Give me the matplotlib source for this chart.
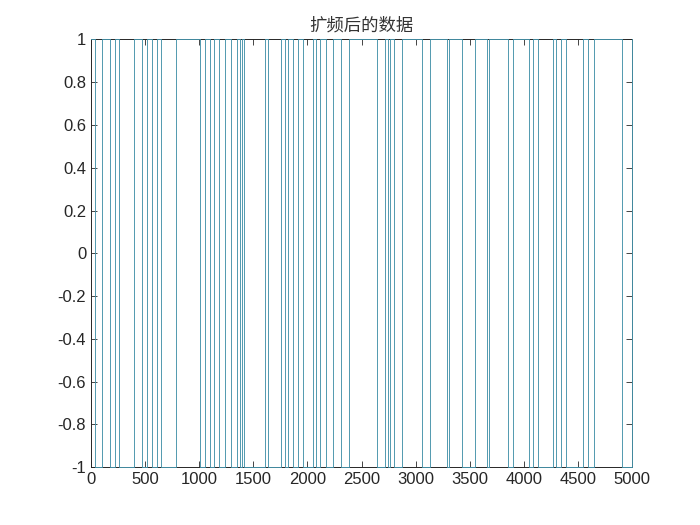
import numpy as np
import matplotlib
matplotlib.use('Agg')
import matplotlib.pyplot as plt
from matplotlib.ticker import FuncFormatter

# Sample positions where the spread chip sequence flips sign
edges = [35, 103, 173, 226, 263, 401, 468, 514, 560, 606, 650, 782,
         1006, 1049, 1095, 1138, 1184, 1237, 1298, 1350, 1375, 1396, 1412,
         1606, 1636, 1759, 1790, 1820, 1866, 1912, 1959, 2051, 2081, 2113,
         2173, 2235, 2312, 2383, 2643, 2721, 2745, 2767, 2797, 2874, 3058,
         3129, 3289, 3311, 3428, 3550, 3657, 3682, 3851, 3897, 4051, 4081,
         4127, 4266, 4297, 4343, 4389, 4542, 4588, 4650, 4911]
start_level = 1
n_samples = 5000

title = '扩频后的数据'
xticks = list(range(0, 5001, 500))
yticks = [-1, -0.8, -0.6, -0.4, -0.2, 0, 0.2, 0.4, 0.6, 0.8, 1]

# build the +/-1 step signal
t = np.array([0] + edges + [n_samples])
levels = start_level * (-1.0) ** np.arange(len(t))

plt.rcParams['font.family'] = ['Liberation Sans', 'DejaVu Sans']
plt.rcParams['axes.unicode_minus'] = False

fig = plt.figure(figsize=(7, 5.25), dpi=100)
ax = fig.add_axes([0.13, 0.11, 0.773, 0.815])

ax.step(t, levels, where='post', color='#4592a9', linewidth=0.65, clip_on=False, zorder=3)

ax.set_xlim(0, n_samples)
ax.set_ylim(-1, 1)
ax.set_xticks(xticks)
ax.set_yticks(yticks)
ax.yaxis.set_major_formatter(FuncFormatter(lambda v, p: '%g' % v))
ax.tick_params(direction='in', top=True, right=True, labelsize=12,
               colors='#262626', length=4, width=0.6)
for s in ax.spines.values():
    s.set_color('#262626')
    s.set_linewidth(0.7)

ax.set_title(title, fontsize=12.5, family=['Noto Sans CJK SC', 'DejaVu Sans'],
             color='#333333', pad=6)

fig.savefig('out.png', dpi=100, facecolor='white')
